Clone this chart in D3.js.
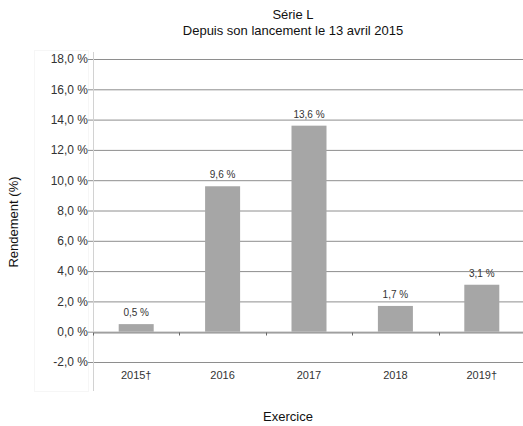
<!DOCTYPE html>
<html lang="fr">
  <head>
    <meta charset="UTF-8">
    <title>Série L</title>
    <script src="https://cdn.jsdelivr.net/npm/d3@7"></script>
    <style>
      html, body {
        margin: 0;
        padding: 0;
        background: #fff;
      }
      body {
        font-family: "Liberation Sans", Arial, sans-serif;
      }
      svg text {
        fill: #333;
      }
    </style>
  </head>
  <body>
    <script>
      const years = ["2015†", "2016", "2017", "2018", "2019†"];
      const returns = [0.5, 9.6, 13.6, 1.7, 3.1];
      const yTicks = [-2, 0, 2, 4, 6, 8, 10, 12, 14, 16, 18];
      const titleLines = ["Série L", "Depuis son lancement le 13 avril 2015"];

      const data = years.map((y, i) => ({ year: y, value: returns[i] }));

      const width = 523;
      const height = 426;
      const plot = { left: 93, right: 525, top: 59, bottom: 362 };

      const fmt = (v) => d3.format(".1f")(v).replace(".", ",").replace("−", "-") + " %";

      const svg = d3.select("body")
        .append("svg")
        .attr("width", width)
        .attr("height", height);

      // faint frame around y labels
      svg.append("rect")
        .attr("x", 34.5)
        .attr("y", 50.5)
        .attr("width", 54)
        .attr("height", 341)
        .attr("fill", "none")
        .attr("stroke", "#f6f6f6");

      const x = d3.scaleBand()
        .domain(years)
        .range([plot.left, plot.right])
        .paddingInner(0)
        .paddingOuter(0);

      const y = d3.scaleLinear()
        .domain([-2, 18])
        .range([plot.bottom, plot.top]);

      // title
      svg.append("g")
        .selectAll("text")
        .data(titleLines)
        .enter()
        .append("text")
        .attr("x", 293)
        .attr("y", (d, i) => 19 + i * 16)
        .attr("text-anchor", "middle")
        .attr("font-size", "13px")
        .style("fill", "#111")
        .text((d) => d);

      // gridlines + y ticks
      const yAxis = d3.axisLeft(y)
        .tickValues(yTicks)
        .tickSize(-(plot.right - plot.left) - 5)
        .tickPadding(1)
        .tickFormat(fmt);

      const gy = svg.append("g")
        .attr("transform", `translate(${plot.left},0)`)
        .call(yAxis);
      gy.select(".domain").remove();
      gy.selectAll(".tick line")
        .attr("x1", -5)
        .attr("x2", plot.right - plot.left)
        .attr("stroke", "#8e8e8e");
      gy.selectAll(".tick text")
        .attr("x", -5)
        .attr("font-size", "12px")
        .attr("font-family", "Liberation Sans, Arial, sans-serif")
        .style("fill", "#333");

      // left axis line
      svg.append("line")
        .attr("x1", plot.left + 0.5)
        .attr("x2", plot.left + 0.5)
        .attr("y1", plot.top - 7)
        .attr("y2", 391)
        .attr("stroke", "#d2d2d2");

      // bars
      const barW = 35;
      svg.append("g")
        .selectAll("rect")
        .data(data)
        .enter()
        .append("rect")
        .attr("x", (d) => x(d.year) + x.bandwidth() / 2 - barW / 2)
        .attr("y", (d) => y(d.value))
        .attr("width", barW)
        .attr("height", (d) => y(0) - y(d.value))
        .attr("fill", "#a6a6a6");

      // zero line with category ticks
      const xAxis = d3.axisBottom(x).tickSize(0).tickFormat("");
      const gx = svg.append("g")
        .attr("transform", `translate(0,${Math.round(y(0)) + 0.5})`)
        .call(xAxis);
      gx.select(".domain").attr("stroke", "#8e8e8e");
      gx.selectAll(".tick").remove();
      gx.selectAll(".sep")
        .data(years)
        .enter()
        .append("line")
        .attr("x1", (d) => Math.round(x(d)) + 0.5)
        .attr("x2", (d) => Math.round(x(d)) + 0.5)
        .attr("y1", 0)
        .attr("y2", 3)
        .attr("stroke", "#666");

      // category labels
      svg.append("g")
        .selectAll("text")
        .data(years)
        .enter()
        .append("text")
        .attr("x", (d) => x(d) + x.bandwidth() / 2)
        .attr("y", 379)
        .attr("text-anchor", "middle")
        .attr("font-size", "11px")
        .text((d) => d);

      // value labels
      svg.append("g")
        .selectAll("text")
        .data(data)
        .enter()
        .append("text")
        .attr("x", (d) => x(d.year) + x.bandwidth() / 2)
        .attr("y", (d) => y(d.value) - 8)
        .attr("text-anchor", "middle")
        .attr("font-size", "10px")
        .text((d) => fmt(d.value));

      // axis titles
      svg.append("text")
        .attr("transform", "translate(18,222) rotate(-90)")
        .attr("text-anchor", "middle")
        .attr("font-size", "13px")
        .style("fill", "#111")
        .text("Rendement (%)");

      svg.append("text")
        .attr("x", 288)
        .attr("y", 421)
        .attr("text-anchor", "middle")
        .attr("font-size", "13px")
        .style("fill", "#111")
        .text("Exercice");
    </script>
  </body>
</html>
